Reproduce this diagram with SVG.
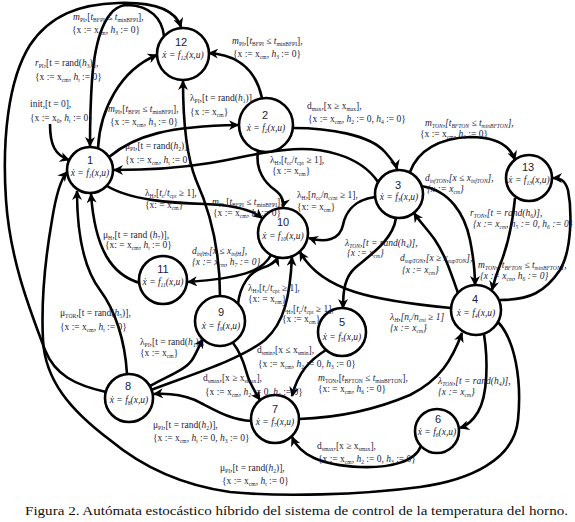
<svg xmlns="http://www.w3.org/2000/svg" width="575" height="522" viewBox="0 0 575 522">
<style>
.e{fill:none;stroke:#000;stroke-width:2.6;marker-end:url(#ah)}
circle{fill:#fff;stroke:#000;stroke-width:2.6}
.num{font-family:"Liberation Sans",Arial,sans-serif;font-size:11px;text-anchor:middle;fill:#1a1a3a}
.eq{font-family:"Liberation Serif","Times New Roman",serif;font-size:9.5px;font-style:italic;text-anchor:middle;fill:#1a1a3a}
.l{font-family:"Liberation Serif","Times New Roman",serif;font-size:9.5px;fill:#1c1c40}
.i{font-style:italic}
.s{font-size:5.6px;baseline-shift:-2px}
.cap{font-family:"Liberation Serif","Times New Roman",serif;font-size:12.5px;fill:#111}
</style>
<defs>
<marker id="ah" viewBox="0 0 10 10" refX="9" refY="5" markerWidth="10" markerHeight="10" markerUnits="userSpaceOnUse" orient="auto">
<path d="M0,0 L10,5 L0,10 L3,5 z" fill="#000"/>
</marker>
</defs>
<rect width="575" height="522" fill="#fff"/>
<g id="connectors">
<path class="e" d="M106,392 C75,385 55,375 45,350 C30,310 10,260 6,200 C2,140 8,80 30,45 C50,15 80,4 118,3 C150,2 175,8 181,27"/>
<path class="e" d="M164,36 C162,18 150,6 128,5 C105,5 95,40 92,80 C90,110 90,130 90,146"/>
<path class="e" d="M98,148 C100,110 120,70 157,55"/>
<path class="e" d="M262,98 C256,70 238,55 209,53"/>
<path class="e" d="M220,296 C220,240 205,200 196,180 C188,160 183,130 183,81"/>
<path class="e" d="M109,157 C135,135 170,126 238,125"/>
<path class="e" d="M378,182 C360,155 320,146 285,150 C255,153 240,158 210,163 C180,168 150,170 114,170"/>
<path class="e" d="M293,128 C330,128 370,135 385,152 C392,160 396,165 397,169"/>
<path class="e" d="M50,124 C50,145 55,155 69,160"/>
<path class="e" d="M107,186 C130,200 170,203 205,204 C235,205 252,210 262,218"/>
<path class="e" d="M258,151 C255,170 265,183 275,190 C283,196 284,203 283,207"/>
<path class="e" d="M375,197 C352,200 345,215 343,225 C340,240 325,243 309,238"/>
<path class="e" d="M271,255 C262,272 240,278 188,282"/>
<path class="e" d="M140,283 C112,275 95,250 91,194"/>
<path class="e" d="M127,374 C125,340 115,310 100,290 C85,270 77,240 77,191"/>
<path class="e" d="M498,322 C515,340 522,380 518,420 C514,460 470,480 420,487 C360,495 280,497 230,492 C180,485 140,465 110,440 C70,410 45,380 43,340 C41,300 45,260 52,220 C56,195 60,180 67,172"/>
<path class="e" d="M484,334 C488,360 488,395 478,412 C472,422 466,426 460,428"/>
<path class="e" d="M421,446 C415,462 390,468 360,467 C320,465 300,455 292,437"/>
<path class="e" d="M299,419 C330,418 370,412 410,395 C440,380 452,360 462,333"/>
<path class="e" d="M451,308 C420,305 380,300 355,292 C330,284 310,270 300,252"/>
<path class="e" d="M396,218 C393,240 370,255 355,268 C345,277 343,290 343,308"/>
<path class="e" d="M458,293 C450,270 445,255 435,240 C428,230 420,222 414,213"/>
<path class="e" d="M421,186 C450,190 465,215 470,240 C474,260 475,275 475,285"/>
<path class="e" d="M410,172 C418,150 440,138 470,137 C495,137 510,145 515,160"/>
<path class="e" d="M515,198 C513,220 508,245 500,265 C496,275 494,282 492,290"/>
<path class="e" d="M500,300 C530,300 545,292 560,270 C572,250 572,210 568,190 C565,180 560,178 553,178"/>
<path class="e" d="M238,304 C240,285 250,272 262,268 C272,265 276,262 278,257"/>
<path class="e" d="M151,390 C190,375 240,360 265,340 C285,322 290,295 292,257"/>
<path class="e" d="M150,386 C170,375 185,370 192,360 C196,354 199,346 203,339"/>
<path class="e" d="M233,343 C245,358 245,372 250,382 C253,388 256,394 260,400"/>
<path class="e" d="M326,350 C310,360 298,372 292,396"/>
<path class="e" d="M252,421 C230,420 215,410 195,400 C180,394 168,393 154,394"/>
</g>
<g id="node1"><circle cx="90" cy="170" r="23"/><text class="num" x="90" y="164">1</text><text class="eq" x="90" y="176">ẋ = f<tspan class="s">1</tspan>(x,u)</text></g>
<g id="node2"><circle cx="266" cy="125" r="27"/><text class="num" x="265" y="119">2</text><text class="eq" x="266" y="131">ẋ = f<tspan class="s">2</tspan>(x,u)</text></g>
<g id="node3"><circle cx="399" cy="194" r="24"/><text class="num" x="398" y="189">3</text><text class="eq" x="399" y="200">ẋ = f<tspan class="s">3</tspan>(x,u)</text></g>
<g id="node4"><circle cx="476" cy="310" r="25"/><text class="num" x="475" y="303">4</text><text class="eq" x="476" y="316">ẋ = f<tspan class="s">4</tspan>(x,u)</text></g>
<g id="node5"><circle cx="342" cy="332" r="24"/><text class="num" x="342" y="326">5</text><text class="eq" x="342" y="340">ẋ = f<tspan class="s">5</tspan>(x,u)</text></g>
<g id="node6"><circle cx="437" cy="431" r="22"/><text class="num" x="438" y="423">6</text><text class="eq" x="437" y="435">ẋ = f<tspan class="s">6</tspan>(x,u)</text></g>
<g id="node7"><circle cx="275" cy="419" r="24"/><text class="num" x="275" y="413">7</text><text class="eq" x="275" y="425">ẋ = f<tspan class="s">7</tspan>(x,u)</text></g>
<g id="node8"><circle cx="129" cy="398" r="24"/><text class="num" x="128" y="390">8</text><text class="eq" x="129" y="403">ẋ = f<tspan class="s">8</tspan>(x,u)</text></g>
<g id="node9"><circle cx="220" cy="321" r="25"/><text class="num" x="221" y="316">9</text><text class="eq" x="221" y="329">ẋ = f<tspan class="s">9</tspan>(x,u)</text></g>
<g id="node10"><circle cx="283" cy="233" r="25"/><text class="num" x="283" y="226">10</text><text class="eq" x="283" y="239">ẋ = f<tspan class="s">10</tspan>(x,u)</text></g>
<g id="node11"><circle cx="163" cy="280" r="24"/><text class="num" x="163" y="273">11</text><text class="eq" x="163" y="285">ẋ = f<tspan class="s">11</tspan>(x,u)</text></g>
<g id="node12"><circle cx="183" cy="54" r="26"/><text class="num" x="181" y="46">12</text><text class="eq" x="183" y="58">ẋ = f<tspan class="s">12</tspan>(x,u)</text></g>
<g id="node13"><circle cx="529" cy="178" r="23"/><text class="num" x="528" y="171">13</text><text class="eq" x="529" y="183">ẋ = f<tspan class="s">13</tspan>(x,u)</text></g>
<g id="labels">
<text class="l" x="73" y="20"><tspan class="i">m</tspan><tspan class="s">PI</tspan>,[<tspan class="i">t</tspan><tspan class="s">BFPI</tspan> ≤ <tspan class="i">t</tspan><tspan class="s">minBFPI</tspan>],</text>
<text class="l" x="72" y="33">{x := x<tspan class="s">cm</tspan>, <tspan class="i">h</tspan><tspan class="s">3</tspan> := 0}</text>
<text class="l" x="35" y="66"><tspan class="i">r</tspan><tspan class="s">PI</tspan>,[t = rand(<tspan class="i">h</tspan><tspan class="s">3</tspan>)],</text>
<text class="l" x="35" y="80">{x := x<tspan class="s">cm</tspan>, <tspan class="i">h</tspan><tspan class="s">t</tspan> := 0}</text>
<text class="l" x="30" y="107">init,[t = 0],</text>
<text class="l" x="30" y="121">{x := x<tspan class="s">0</tspan>, <tspan class="i">h</tspan><tspan class="s">t</tspan> := 0}</text>
<text class="l" x="108" y="112"><tspan class="i">m</tspan><tspan class="s">PI</tspan>,[<tspan class="i">t</tspan><tspan class="s">BFPI</tspan> ≤ <tspan class="i">t</tspan><tspan class="s">minBFPI</tspan>],</text>
<text class="l" x="110" y="125">{x := x<tspan class="s">cm</tspan>, <tspan class="i">h</tspan><tspan class="s">3</tspan> := 0}</text>
<text class="l" x="232" y="44"><tspan class="i">m</tspan><tspan class="s">PI</tspan>,[<tspan class="i">t</tspan><tspan class="s">BFPI</tspan> ≤ <tspan class="i">t</tspan><tspan class="s">minBFPI</tspan>],</text>
<text class="l" x="233" y="57">{x := x<tspan class="s">cm</tspan>, <tspan class="i">h</tspan><tspan class="s">3</tspan> := 0}</text>
<text class="l" x="190" y="101">λ<tspan class="s">PI</tspan>,[t = rand(<tspan class="i">h</tspan><tspan class="s">1</tspan>)],</text>
<text class="l" x="190" y="115">{x := x<tspan class="s">cm</tspan>}</text>
<text class="l" x="307" y="109">d<tspan class="s">max</tspan>,[x ≥ x<tspan class="s">max</tspan>],</text>
<text class="l" x="308" y="122">{x := x<tspan class="s">cm</tspan>, <tspan class="i">h</tspan><tspan class="s">2</tspan> := 0, <tspan class="i">h</tspan><tspan class="s">4</tspan> := 0}</text>
<text class="l i" x="425" y="126">m<tspan class="s">TON</tspan>,[t<tspan class="s">BFTON</tspan> ≤ t<tspan class="s">minBFTON</tspan>],</text>
<text class="l" x="420" y="137">{x := x<tspan class="s">cm</tspan>, <tspan class="i">h</tspan><tspan class="s">6</tspan> := 0}</text>
<text class="l i" x="425" y="181">d<tspan class="s">infTON</tspan>,[x ≤ x<tspan class="s">infTON</tspan>],</text>
<text class="l i" x="427" y="192">{x := x<tspan class="s">cm</tspan>}</text>
<text class="l i" x="470" y="216">r<tspan class="s">TON</tspan>,[t = rand(h<tspan class="s">6</tspan>)],</text>
<text class="l i" x="473" y="227">{x := x<tspan class="s">cm</tspan>, h<tspan class="s">5</tspan> := 0, h<tspan class="s">6</tspan> := 0}</text>
<text class="l" x="125" y="149">μ<tspan class="s">PI</tspan>,[t = rand(<tspan class="i">h</tspan><tspan class="s">2</tspan>)],</text>
<text class="l" x="125" y="163">{x := x<tspan class="s">cm</tspan>, <tspan class="i">h</tspan><tspan class="s">t</tspan> := 0}</text>
<text class="l" x="145" y="196">λ<tspan class="s">H</tspan>,[<tspan class="i">t</tspan><tspan class="s">c</tspan>/<tspan class="i">t</tspan><tspan class="s">cpt</tspan> ≥ 1],</text>
<text class="l" x="145" y="208">{x: = x<tspan class="s">cm</tspan>}</text>
<text class="l" x="103" y="238">μ<tspan class="s">H</tspan>,[t = rand (<tspan class="i">h</tspan><tspan class="s">7</tspan>)],</text>
<text class="l" x="105" y="248">{x: = x<tspan class="s">cm</tspan>, <tspan class="i">h</tspan><tspan class="s">t</tspan> := 0}</text>
<text class="l" x="270" y="163">λ<tspan class="s">H</tspan>,[<tspan class="i">t</tspan><tspan class="s">cc</tspan>/<tspan class="i">t</tspan><tspan class="s">cpt</tspan> ≥ 1],</text>
<text class="l" x="272" y="174">{x := x<tspan class="s">cm</tspan>}</text>
<text class="l" x="212" y="205"><tspan class="i">m</tspan><tspan class="s">PI</tspan>,[<tspan class="i">t</tspan><tspan class="s">BFPI</tspan> ≤ <tspan class="i">t</tspan><tspan class="s">minBFPI</tspan>],</text>
<text class="l" x="213" y="216">{x := x<tspan class="s">cm</tspan>, <tspan class="i">h</tspan><tspan class="s">3</tspan> := 0}</text>
<text class="l" x="297" y="198">λ<tspan class="s">H</tspan>,[<tspan class="i">n</tspan><tspan class="s">cc</tspan>/<tspan class="i">n</tspan><tspan class="s">ccnt</tspan> ≥ 1],</text>
<text class="l" x="297" y="210">{x: = x<tspan class="s">cm</tspan>}</text>
<text class="l i" x="192" y="254">d<tspan class="s">infH</tspan>,[x ≤ x<tspan class="s">infH</tspan>],</text>
<text class="l i" x="192" y="265">{x := x<tspan class="s">cm</tspan>, h<tspan class="s">7</tspan> := 0}</text>
<text class="l i" x="345" y="246">λ<tspan class="s">TON</tspan>,[t = rand(h<tspan class="s">4</tspan>)],</text>
<text class="l i" x="347" y="256">{x := x<tspan class="s">cm</tspan>}</text>
<text class="l i" x="400" y="261">d<tspan class="s">supTON</tspan>,[x ≥ x<tspan class="s">supTON</tspan>],</text>
<text class="l i" x="402" y="273">{x := x<tspan class="s">cm</tspan>}</text>
<text class="l i" x="478" y="268">m<tspan class="s">TON</tspan>,[t<tspan class="s">BFTON</tspan> ≤ t<tspan class="s">minBFTON</tspan>],</text>
<text class="l i" x="480" y="279">{x := x<tspan class="s">cm</tspan>, h<tspan class="s">6</tspan> := 0}</text>
<text class="l" x="60" y="316">μ<tspan class="s">TOR</tspan>,[t = rand(<tspan class="i">h</tspan><tspan class="s">5</tspan>)],</text>
<text class="l" x="60" y="330">{x := x<tspan class="s">cm</tspan>, <tspan class="i">h</tspan><tspan class="s">t</tspan> := 0}</text>
<text class="l" x="140" y="345">λ<tspan class="s">PI</tspan>,[t = rand(<tspan class="i">h</tspan><tspan class="s">1</tspan>)],</text>
<text class="l" x="140" y="356">{x := x<tspan class="s">cm</tspan>}</text>
<text class="l" x="248" y="291">λ<tspan class="s">H</tspan>,[<tspan class="i">t</tspan><tspan class="s">c</tspan>/<tspan class="i">t</tspan><tspan class="s">cpt</tspan> ≥ 1],</text>
<text class="l" x="248" y="302">{x: = x<tspan class="s">cm</tspan>}</text>
<text class="l" x="282" y="312">λ<tspan class="s">H</tspan>,[<tspan class="i">t</tspan><tspan class="s">c</tspan>/<tspan class="i">t</tspan><tspan class="s">cpt</tspan> ≥ 1],</text>
<text class="l" x="282" y="322">{x := x<tspan class="s">cm</tspan>}</text>
<text class="l i" x="390" y="320">λ<tspan class="s">H</tspan>,[n<tspan class="s">c</tspan>/n<tspan class="s">cnt</tspan> ≥ 1]</text>
<text class="l i" x="390" y="331">{x := x<tspan class="s">cm</tspan>}</text>
<text class="l" x="257" y="353">d<tspan class="s">smin</tspan>,[x ≤ x<tspan class="s">smin</tspan>],</text>
<text class="l" x="258" y="367">{x := x<tspan class="s">cm</tspan>, <tspan class="i">h</tspan><tspan class="s">2</tspan> := 0, <tspan class="i">h</tspan><tspan class="s">3</tspan> := 0}</text>
<text class="l" x="318" y="381"><tspan class="i">m</tspan><tspan class="s">TON</tspan>,[<tspan class="i">t</tspan><tspan class="s">BFTON</tspan> ≤ <tspan class="i">t</tspan><tspan class="s">minBFTON</tspan>],</text>
<text class="l" x="318" y="392">{x: = x<tspan class="s">cm</tspan>, <tspan class="i">h</tspan><tspan class="s">6</tspan> := 0}</text>
<text class="l i" x="438" y="384">λ<tspan class="s">TON</tspan>,[t = rand(h<tspan class="s">4</tspan>)],</text>
<text class="l i" x="438" y="395">{x := x<tspan class="s">cm</tspan>}</text>
<text class="l" x="203" y="381">d<tspan class="s">smax</tspan>,[x ≥ x<tspan class="s">smax</tspan>],</text>
<text class="l" x="205" y="395">{x := x<tspan class="s">cm</tspan>, <tspan class="i">h</tspan><tspan class="s">2</tspan> := 0, <tspan class="i">h</tspan><tspan class="s">3</tspan> := 0}</text>
<text class="l" x="153" y="428">μ<tspan class="s">PI</tspan>,[t = rand(<tspan class="i">h</tspan><tspan class="s">2</tspan>)],</text>
<text class="l" x="153" y="441">{x := x<tspan class="s">cm</tspan>, <tspan class="i">h</tspan><tspan class="s">t</tspan> := 0, <tspan class="i">h</tspan><tspan class="s">3</tspan> := 0}</text>
<text class="l" x="317" y="449">d<tspan class="s">smax</tspan>,[x ≥ x<tspan class="s">smax</tspan>],</text>
<text class="l" x="318" y="462">{x := x<tspan class="s">cm</tspan>, <tspan class="i">h</tspan><tspan class="s">2</tspan> := 0, <tspan class="i">h</tspan><tspan class="s">3</tspan> := 0}</text>
<text class="l" x="220" y="471">μ<tspan class="s">PI</tspan>,[t = rand(<tspan class="i">h</tspan><tspan class="s">2</tspan>)],</text>
<text class="l" x="222" y="484">{x := x<tspan class="s">cm</tspan>, <tspan class="i">h</tspan><tspan class="s">t</tspan> := 0}</text>
</g>
<text class="cap" x="25" y="515" textLength="543" lengthAdjust="spacingAndGlyphs">Figura 2. Autómata estocástico híbrido del sistema de control de la temperatura del horno.</text>
</svg>
